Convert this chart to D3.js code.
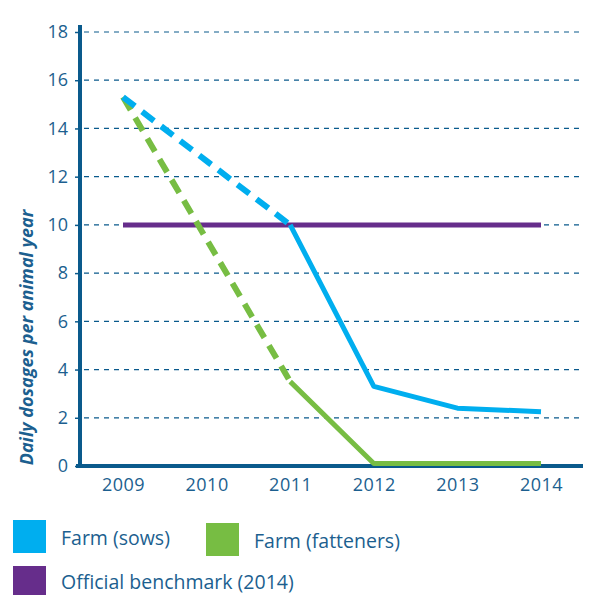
<!DOCTYPE html>
<html>
<head>
<meta charset="utf-8">
<script src="https://cdn.jsdelivr.net/npm/d3@7"></script>
<style>
  body { margin: 0; background: #fff; }
  svg { display: block; font-family: 'Open Sans', 'Noto Sans', sans-serif; }
</style>
</head>
<body>
<svg class="chart"></svg>
<script>
const years = ['2009', '2010', '2011', '2012', '2013', '2014']
const yTicks = [0, 2, 4, 6, 8, 10, 12, 14, 16, 18]

// dashed part = estimate before measurement started (2009 -> 2011)
const sows = [
  { year: '2009', value: 15.3 },
  { year: '2011', value: 10 },
  { year: '2012', value: 3.3 },
  { year: '2013', value: 2.4 },
  { year: '2014', value: 2.25 }
]
const fatteners = [
  { year: '2009', value: 15.3 },
  { year: '2011', value: 3.5 },
  { year: '2012', value: 0.1 },
  { year: '2013', value: 0.1 },
  { year: '2014', value: 0.1 }
]
const benchmark = [
  { year: '2009', value: 10 },
  { year: '2014', value: 10 }
]

const legendItems = [
  { label: 'Farm (sows)', color: '#00aeef' },
  { label: 'Farm (fatteners)', color: '#77bd43' },
  { label: 'Official benchmark (2014)', color: '#662d8b' }
]

const width = 594
const height = 595
const axisColor = '#0a5a8c'
const textColor = '#1c5f8f'
const margin = { top: 32, right: 11, bottom: 129, left: 80 }

const svg = d3.select('.chart').attr('width', width).attr('height', height)

const x = d3.scalePoint()
  .domain(years)
  .range([123, 541])

const y = d3.scaleLinear()
  .domain([0, 18])
  .range([height - margin.bottom, margin.top])

// grid
svg.append('g')
  .selectAll('line')
  .data(yTicks.filter(d => d > 0))
  .join('line')
  .attr('x1', margin.left + 4)
  .attr('x2', width - margin.right)
  .attr('y1', d => y(d))
  .attr('y2', d => y(d))
  .attr('stroke', axisColor)
  .attr('stroke-width', 1.2)
  .attr('stroke-dasharray', '5,5')

// y axis
svg.append('g')
  .attr('transform', `translate(${margin.left},0)`)
  .call(d3.axisLeft(y).tickValues(yTicks).tickSize(5).tickPadding(7))
  .call(g => g.select('.domain').remove())
  .call(g => g.selectAll('.tick line').attr('stroke', axisColor).attr('stroke-width', 1.5))
  .call(g => g.selectAll('.tick text')
    .attr('fill', textColor)
    .attr('font-size', 18)
    .attr('font-family', "'Open Sans', sans-serif"))

svg.append('line')
  .attr('x1', margin.left)
  .attr('x2', margin.left)
  .attr('y1', 25)
  .attr('y2', y(0))
  .attr('stroke', axisColor)
  .attr('stroke-width', 4)

// x axis
svg.append('g')
  .attr('transform', `translate(0,${y(0)})`)
  .call(d3.axisBottom(x).tickSize(0).tickPadding(12))
  .call(g => g.select('.domain').remove())
  .call(g => g.selectAll('.tick text')
    .attr('fill', textColor)
    .attr('font-size', 18)
    .attr('letter-spacing', 0.5)
    .attr('font-family', "'Open Sans', sans-serif"))

svg.append('line')
  .attr('x1', margin.left - 4)
  .attr('x2', width - margin.right)
  .attr('y1', y(0))
  .attr('y2', y(0))
  .attr('stroke', axisColor)
  .attr('stroke-width', 4)

svg.append('text')
  .attr('transform', `translate(33,${(y(0) + 209) / 2}) rotate(-90)`)
  .attr('text-anchor', 'middle')
  .attr('fill', textColor)
  .attr('font-size', 18)
  .attr('font-weight', 'bold')
  .attr('font-style', 'italic')
  .text('Daily dosages per animal year')

const line = d3.line().x(d => x(d.year)).y(d => y(d.value))

function drawSeries(data, color) {
  svg.append('path')
    .datum(data.slice(0, 2))
    .attr('d', line)
    .attr('fill', 'none')
    .attr('stroke', color)
    .attr('stroke-width', 6)
    .attr('stroke-dasharray', '15,9')
  svg.append('path')
    .datum(data.slice(1))
    .attr('d', line)
    .attr('fill', 'none')
    .attr('stroke', color)
    .attr('stroke-width', 5)
    .attr('stroke-linejoin', 'round')
}

svg.append('path')
  .datum(benchmark)
  .attr('d', line)
  .attr('fill', 'none')
  .attr('stroke', legendItems[2].color)
  .attr('stroke-width', 5)

drawSeries(fatteners, legendItems[1].color)
drawSeries(sows, legendItems[0].color)

// legend
const legendPos = [[13, 520], [206, 523], [13, 566]]
const legend = svg.append('g')
  .selectAll('g')
  .data(legendItems)
  .join('g')
  .attr('transform', (d, i) => `translate(${legendPos[i][0]},${legendPos[i][1]})`)

legend.append('rect')
  .attr('width', 33)
  .attr('height', 33)
  .attr('fill', d => d.color)

legend.append('text')
  .attr('x', 48)
  .attr('y', (d, i) => i === 2 ? 23 : 25)
  .attr('fill', textColor)
  .attr('font-size', 19.5)
  .text(d => d.label)
</script>
</body>
</html>
